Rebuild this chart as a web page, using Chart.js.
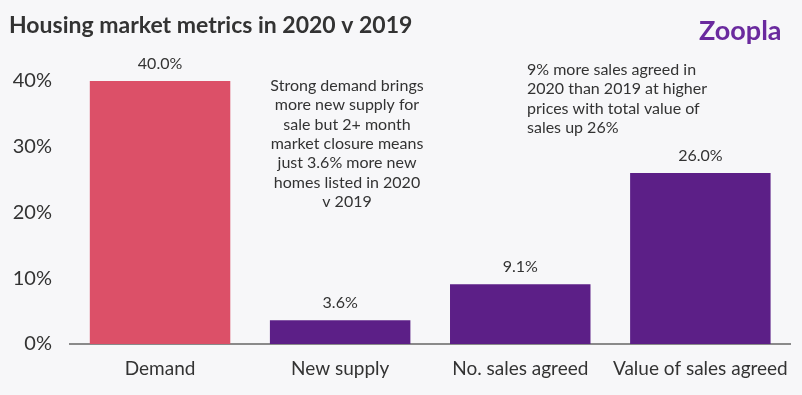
<!DOCTYPE html>
<html>
<head>
<meta charset="utf-8">
<script src="https://cdn.jsdelivr.net/npm/chart.js@4"></script>
<style>
  html, body { margin: 0; padding: 0; background: #f7f7f9; }
  #wrap { width: 802px; height: 395px; }
</style>
</head>
<body>
<div id="wrap"><canvas id="chart" width="802" height="395"></canvas></div>
<script>
// 数据
const categories = ['Demand', 'New supply', 'No. sales agreed', 'Value of sales agreed'];
const changeValues = [40.0, 3.6, 9.1, 26.0];
const barColors = ['#dc5068', '#5c1f87', '#5c1f87', '#5c1f87'];
const yTicks = [0, 10, 20, 30, 40];

const titleText = 'Housing market metrics in 2020 v 2019';
const noteSupply = ['Strong demand brings', 'more new supply for', 'sale but 2+ month',
    'market closure means', 'just 3.6% more new', 'homes listed in 2020', 'v 2019'];
const noteSales = ['9% more sales agreed in', '2020 than 2019 at higher',
    'prices with total value of', 'sales up 26%'];

const textColor = '#333333';
const fontFamily = 'Lato, "Open Sans", sans-serif';

// 标题、logo、数值标签和注释
const overlayPlugin = {
    id: 'overlay',
    afterDraw(chart) {
        const ctx = chart.ctx;
        const meta = chart.getDatasetMeta(0);
        ctx.save();
        ctx.fillStyle = textColor;
        ctx.textBaseline = 'middle';

        ctx.font = 'bold 23px ' + fontFamily;
        ctx.textAlign = 'left';
        ctx.fillText(titleText, 9, 26);

        ctx.fillStyle = '#6a2a9e';
        ctx.font = 'bold 27px ' + fontFamily;
        ctx.fillText('Zoopla', 699, 31);

        ctx.fillStyle = textColor;
        ctx.font = '16px ' + fontFamily;
        ctx.textAlign = 'center';
        meta.data.forEach((bar, i) => {
            ctx.fillText(changeValues[i].toFixed(1) + '%', bar.x, bar.y - 17);
        });

        noteSupply.forEach((line, i) => {
            ctx.fillText(line, 347, 86 + i * 19.3);
        });
        ctx.textAlign = 'left';
        noteSales.forEach((line, i) => {
            ctx.fillText(line, 527, 70 + i * 19.3);
        });
        ctx.restore();
    }
};

new Chart(document.getElementById('chart'), {
    type: 'bar',
    data: {
        labels: categories,
        datasets: [{
            data: changeValues,
            backgroundColor: barColors,
            borderWidth: 0,
            categoryPercentage: 1.0,
            barPercentage: 0.78
        }]
    },
    options: {
        responsive: false,
        animation: false,
        devicePixelRatio: 1,
        layout: { padding: { top: 81, right: 10, left: 0, bottom: 0 } },
        plugins: {
            legend: { display: false },
            title: { display: false },
            tooltip: { enabled: false }
        },
        scales: {
            x: {
                grid: { display: false, drawTicks: false },
                border: { display: true, color: '#8a8a8a', width: 2 },
                ticks: {
                    color: textColor,
                    padding: 13,
                    font: { family: fontFamily, size: 19 },
                    maxRotation: 0,
                    autoSkip: false
                },
                afterFit: function(scale) { scale.height = 51; }
            },
            y: {
                min: 0,
                max: 40,
                grid: { display: false, drawTicks: false },
                border: { display: false },
                afterBuildTicks: function(scale) {
                    scale.ticks = yTicks.map(v => ({ value: v }));
                },
                ticks: {
                    color: textColor,
                    padding: 18,
                    font: { family: fontFamily, size: 20 },
                    callback: function(value) { return value + '%'; }
                },
                afterFit: function(scale) { scale.width = 70; }
            }
        }
    },
    plugins: [overlayPlugin]
});
</script>
</body>
</html>
